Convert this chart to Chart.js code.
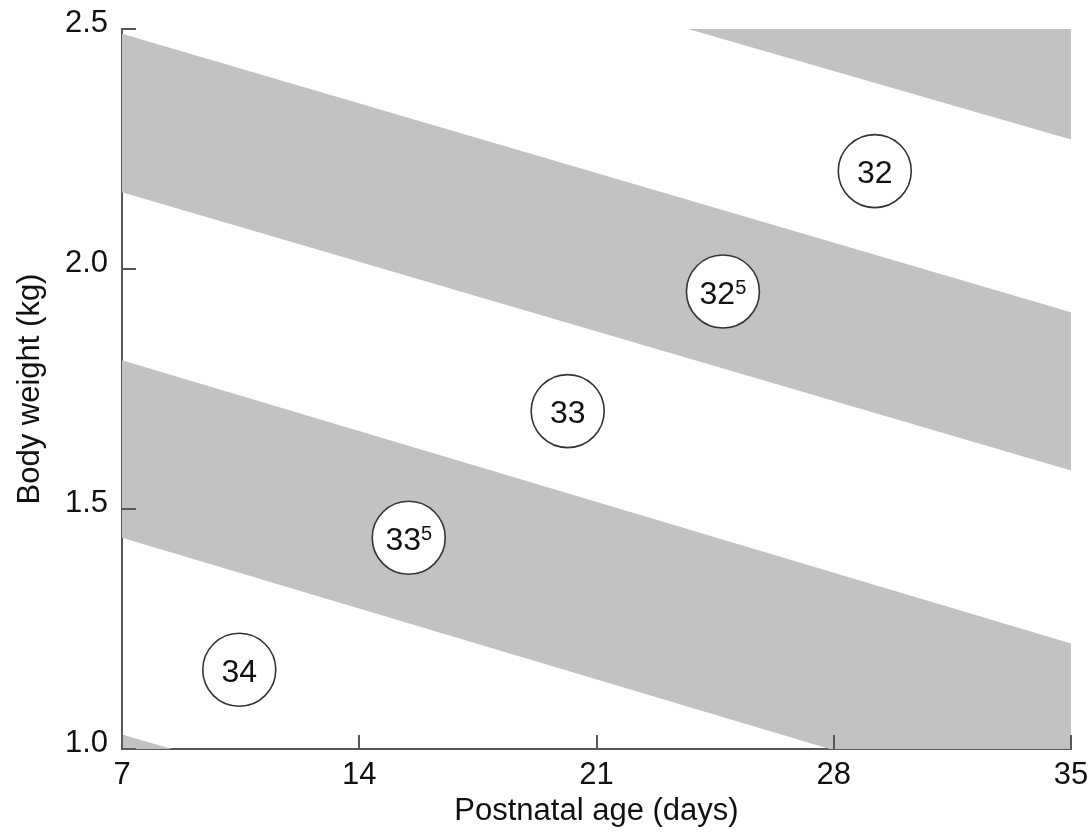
<!DOCTYPE html>
<html>
<head>
<meta charset="utf-8">
<script src="https://cdn.jsdelivr.net/npm/chart.js@4/dist/chart.umd.min.js"></script>
<style>
  html, body { margin: 0; padding: 0; background: #fff; }
  #wrap { width: 1091px; height: 832px; }
</style>
</head>
<body>
<div id="wrap"><canvas id="c" width="1091" height="832"></canvas></div>
<script>
// ---- data ----
const xTicks = [7, 14, 21, 28, 35];
const yTicks = [1.0, 1.5, 2.0, 2.5];
const ageEnds = [7, 35];               // band edges are straight lines between these ages
// band edges (body weight, kg) at day 7 and day 35
const bandA_upper = [3.30, 2.70];
const bandA_lower = [2.84, 2.27];
const bandB_upper = [2.49, 1.91];
const bandB_lower = [2.16, 1.58];
const bandC_upper = [1.81, 1.22];
const bandC_lower = [1.44, 0.85];
const bandD_upper = [1.03, 0.46];
const bandD_lower = [0.60, 0.00];
// gestational-age markers
const markerAge    = [29.21, 24.73, 20.15, 15.46, 10.46];
const markerWeight = [2.204, 1.953, 1.704, 1.440, 1.165];
const markerMain   = ['32', '32', '33', '33', '34'];
const markerSup    = ['',   '5',  '',   '5',  ''];

const FONT = "'Liberation Sans', Arial, Helvetica, sans-serif";
const GRAY = '#c2c2c2';
const AXIS = '#585858';

function edge(vals) { return ageEnds.map((a, i) => ({ x: a, y: vals[i] })); }
function bandPair(up, lo) {
  return [
    { type: 'line', data: edge(up), borderWidth: 0, pointRadius: 0, backgroundColor: GRAY,
      fill: '+1', tension: 0, order: 2 },
    { type: 'line', data: edge(lo), borderWidth: 0, pointRadius: 0, backgroundColor: GRAY,
      fill: false, tension: 0, order: 2 }
  ];
}

const markers = {
  type: 'scatter',
  data: markerAge.map((a, i) => ({ x: a, y: markerWeight[i] })),
  pointRadius: 36.5, pointHoverRadius: 36.5,
  pointBackgroundColor: '#ffffff', pointBorderColor: '#333333', pointBorderWidth: 1.6,
  order: 0
};

const decor = {
  id: 'decor',
  afterDatasetsDraw(chart) {
    const ctx = chart.ctx, xs = chart.scales.x, ys = chart.scales.y, a = chart.chartArea;
    ctx.save();
    // inward tick marks
    ctx.strokeStyle = AXIS; ctx.lineWidth = 2;
    yTicks.forEach(v => {
      const y = Math.round(ys.getPixelForValue(v));
      ctx.beginPath(); ctx.moveTo(a.left, y); ctx.lineTo(a.left + 14, y); ctx.stroke();
    });
    xTicks.forEach(v => {
      const x = Math.round(xs.getPixelForValue(v));
      ctx.beginPath(); ctx.moveTo(x, a.bottom); ctx.lineTo(x, a.bottom - 14); ctx.stroke();
    });
    // marker labels
    ctx.fillStyle = '#111';
    const meta = chart.getDatasetMeta(0);
    meta.data.forEach((pt, i) => {
      const mainF = '32px ' + FONT, supF = '20px ' + FONT;
      ctx.font = mainF; const wm = ctx.measureText(markerMain[i]).width;
      ctx.font = supF; const ws = markerSup[i] ? ctx.measureText(markerSup[i]).width : 0;
      const x0 = pt.x - (wm + ws) / 2;
      ctx.textAlign = 'left'; ctx.textBaseline = 'alphabetic';
      ctx.font = mainF; ctx.fillText(markerMain[i], x0, pt.y + 12);
      if (markerSup[i]) { ctx.font = supF; ctx.fillText(markerSup[i], x0 + wm, pt.y + 2); }
    });
    ctx.restore();
  }
};

new Chart(document.getElementById('c'), {
  data: {
    datasets: [markers,
      ...bandPair(bandA_upper, bandA_lower),
      ...bandPair(bandB_upper, bandB_lower),
      ...bandPair(bandC_upper, bandC_lower),
      ...bandPair(bandD_upper, bandD_lower)]
  },
  options: {
    responsive: false, animation: false,
    layout: { autoPadding: false, padding: { top: 29, right: 20, left: 0, bottom: 0 } },
    plugins: { legend: { display: false }, tooltip: { enabled: false } },
    events: [],
    scales: {
      x: {
        type: 'linear', min: 7, max: 35,
        afterBuildTicks: s => { s.ticks = xTicks.map(v => ({ value: v })); },
        afterFit: s => { s.height = 83; s.paddingLeft = 0; s.paddingRight = 0; },
        grid: { drawOnChartArea: false, drawTicks: false },
        border: { color: AXIS, width: 2 },
        ticks: { padding: 8, color: '#111', font: { family: FONT, size: 31 }, maxRotation: 0,
                 callback: v => String(v) },
        title: { display: true, text: 'Postnatal age (days)', color: '#111',
                 font: { family: FONT, size: 31 }, padding: { top: 0, bottom: 2 } }
      },
      y: {
        type: 'linear', min: 1.0, max: 2.5,
        afterBuildTicks: s => { s.ticks = yTicks.map(v => ({ value: v })); },
        afterFit: s => { s.width = 122; s.paddingTop = 0; s.paddingBottom = 0; },
        grid: { drawOnChartArea: false, drawTicks: false },
        border: { color: AXIS, width: 2 },
        ticks: { padding: 14, labelOffset: -6, color: '#111', font: { family: FONT, size: 31 },
                 callback: v => Number(v).toFixed(1) },
        title: { display: true, text: 'Body weight (kg)', color: '#111',
                 font: { family: FONT, size: 31 }, padding: { top: 12, bottom: 0 } }
      }
    }
  },
  plugins: [decor]
});
</script>
</body>
</html>
